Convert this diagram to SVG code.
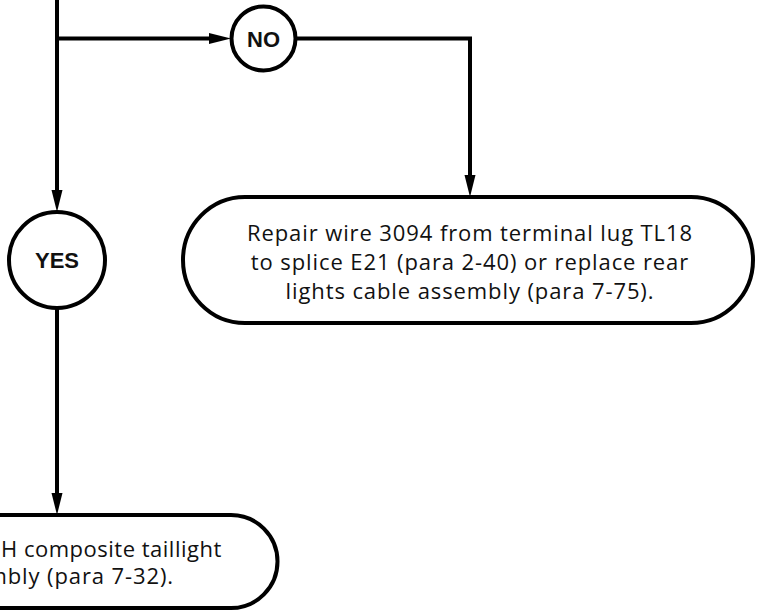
<svg xmlns="http://www.w3.org/2000/svg" width="757" height="612" viewBox="0 0 757 612">
<style>
.ln{fill:none;stroke:#000;stroke-width:4}
.shape{fill:#fff;stroke:#000;stroke-width:4}
.lbl{font-family:"Liberation Sans",Arial,sans-serif;font-weight:bold;font-size:22px;text-anchor:middle;fill:#111}
.txt{font-family:"Open Sans","Noto Sans",sans-serif;font-size:22px;letter-spacing:0.9px;fill:#111}
</style>
<defs>
<marker id="ah" markerUnits="userSpaceOnUse" markerWidth="22" markerHeight="12" refX="0" refY="5.5" orient="auto" overflow="visible">
<path d="M0,0 L22,5.5 L0,11 z" fill="#000"/>
</marker>
</defs>
<rect width="757" height="612" fill="#fff"/>
<g id="connectors">
<path class="ln" d="M57 -2 V190" marker-end="url(#ah)"/>
<path class="ln" d="M57 38.5 H209" marker-end="url(#ah)"/>
<path class="ln" d="M296 38.5 H470 V175" marker-end="url(#ah)"/>
<path class="ln" d="M57 308 V493" marker-end="url(#ah)"/>
</g>
<g id="no">
<circle class="shape" cx="263.5" cy="38.5" r="32"/>
<text class="lbl" x="263.5" y="46.5">NO</text>
</g>
<g id="yes">
<circle class="shape" cx="57" cy="260" r="48"/>
<text class="lbl" x="57" y="268">YES</text>
</g>
<g id="repair">
<rect class="shape" x="183" y="197" width="570" height="126" rx="62" ry="63"/>
<text class="txt" text-anchor="middle" x="470" y="241">Repair wire 3094 from terminal lug TL18</text>
<text class="txt" text-anchor="middle" x="470" y="270">to splice E21 (para 2-40) or replace rear</text>
<text class="txt" text-anchor="middle" x="470" y="299">lights cable assembly (para 7-75).</text>
</g>
<g id="replace">
<path class="shape" d="M-60 515 H231 A46.5 46.5 0 0 1 231 608 H-60 Z"/>
<text class="txt" x="1" y="557" style="letter-spacing:0.5px">H composite taillight</text>
<text class="txt" text-anchor="end" x="174" y="584">mbly (para 7-32).</text>
</g>
</svg>
